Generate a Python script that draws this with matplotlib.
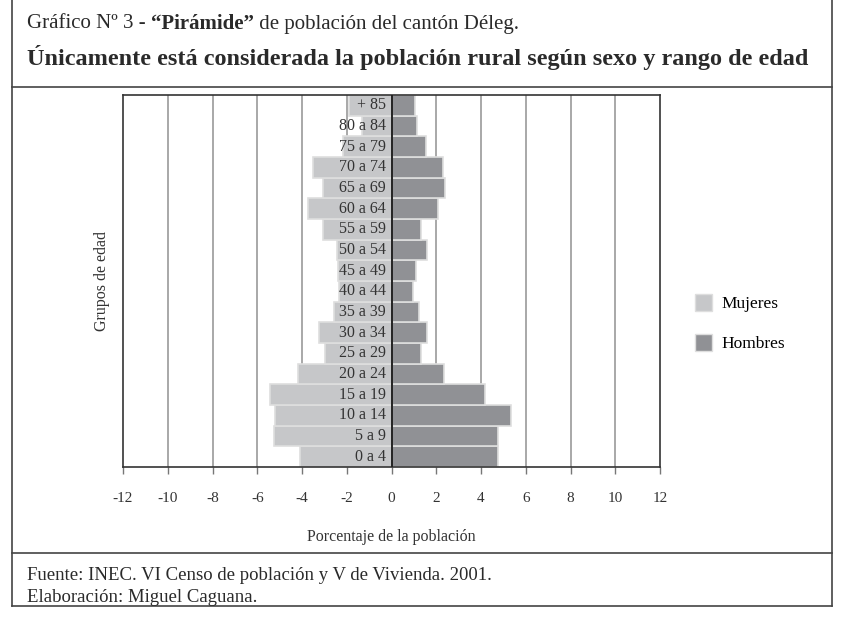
import matplotlib
matplotlib.use("Agg")
import matplotlib.pyplot as plt
from matplotlib.patches import Patch
from matplotlib.lines import Line2D
import numpy as np

plt.rcParams['font.family'] = ['Liberation Serif', 'DejaVu Serif']

# Data: age groups from youngest (bottom) to oldest (top)
grupos = ["0 a 4", "5 a 9", "10 a 14", "15 a 19", "20 a 24", "25 a 29",
          "30 a 34", "35 a 39", "40 a 44", "45 a 49", "50 a 54", "55 a 59",
          "60 a 64", "65 a 69", "70 a 74", "75 a 79", "80 a 84", "+ 85"]
mujeres = [4.11, 5.23, 5.22, 5.44, 4.18, 2.99, 3.22, 2.55, 2.34, 2.41,
           2.44, 3.08, 3.71, 3.08, 3.51, 2.17, 1.33, 1.92]
hombres = [4.78, 4.78, 5.35, 4.17, 2.34, 1.33, 1.60, 1.24, 0.94, 1.09,
           1.57, 1.30, 2.09, 2.40, 2.30, 1.52, 1.12, 1.05]
ticks_x = list(range(-12, 13, 2))

c_muj = "#c6c7c9"
c_hom = "#909195"
c_edge = "#dedede"
txt = "#2a2a2a"

fig = plt.figure(figsize=(8.44, 6.21), dpi=100)
ax = fig.add_axes([123/844, 1-467/621, (660-123)/844, (467-95)/621])

y = np.arange(len(grupos))

# gridlines
for t in ticks_x[1:-1]:
    if t != 0:
        ax.axvline(t, color="#9a9a9a", lw=1.2, zorder=0)

ax.barh(y, [-v for v in mujeres], height=1.0, color=c_muj, edgecolor=c_edge, lw=1.2, zorder=2)
ax.barh(y, hombres, height=1.0, color=c_hom, edgecolor=c_edge, lw=1.2, zorder=2)
ax.axvline(0, color="#222222", lw=1.4, zorder=3)

for yi, g in zip(y, grupos):
    ax.text(-0.25, yi, g, ha="right", va="center", fontsize=11.5, color="#333333", zorder=4)

ax.set_xlim(-12, 12)
ax.set_ylim(-0.5, len(grupos) - 0.5)
ax.set_xticks(ticks_x)
ax.set_xticklabels([str(t) for t in ticks_x], fontsize=11, color="#333333")
ax.set_yticks([])
ax.tick_params(axis="x", direction="out", length=5, width=1, color="#777777", pad=13)
for s in ax.spines.values():
    s.set_color("#333333")
    s.set_linewidth(1.2)

ax.set_xlabel("Porcentaje de la población", fontsize=11.5, color="#333333", labelpad=17)
ax.set_ylabel("Grupos de edad", fontsize=11.5, color="#333333", labelpad=9)

handles = [Patch(facecolor=c_muj, edgecolor=c_edge, label="Mujeres"),
           Patch(facecolor=c_hom, edgecolor=c_edge, label="Hombres")]
fig.legend(handles=handles, loc="center left", bbox_to_anchor=(0.805, 1-323/621),
           frameon=False, fontsize=12.5, handlelength=1.0, handleheight=1.1,
           labelspacing=1.25, handletextpad=0.5)

# frame
lc = "#444444"
for xx in (12/844, 832/844):
    fig.add_artist(Line2D([xx, xx], [1-606/621, 1], color=lc, lw=1.2))
for yy in (87, 553, 606):
    fig.add_artist(Line2D([12/844, 832/844], [1-yy/621, 1-yy/621], color=lc, lw=1.2))

# titles (line 1 has a bold word in the middle)
r = fig.canvas.get_renderer()
p1 = fig.text(27/844, 1-24/621, "Gráfico Nº 3 - ", fontsize=15, va="center", color=txt)
w0 = p1.get_window_extent(r).x1
p2 = fig.text(w0/844, 1-24/621, "“Pirámide”", fontsize=15, fontweight="bold", va="center", color=txt)
w1 = p2.get_window_extent(r).x1
fig.text(w1/844, 1-24/621, " de población del cantón Déleg.", fontsize=15, va="center", color=txt)
fig.text(27/844, 1-57/621, "Únicamente está considerada la población rural según sexo y rango de edad",
         fontsize=17.5, fontweight="bold", va="center", color=txt)

fig.text(27/844, 1-575/621, "Fuente: INEC. VI Censo de población y V de Vivienda. 2001.",
         fontsize=13.5, va="center", color=txt)
fig.text(27/844, 1-597/621, "Elaboración: Miguel Caguana.",
         fontsize=13.5, va="center", color=txt)

fig.savefig("out.png", dpi=100)
